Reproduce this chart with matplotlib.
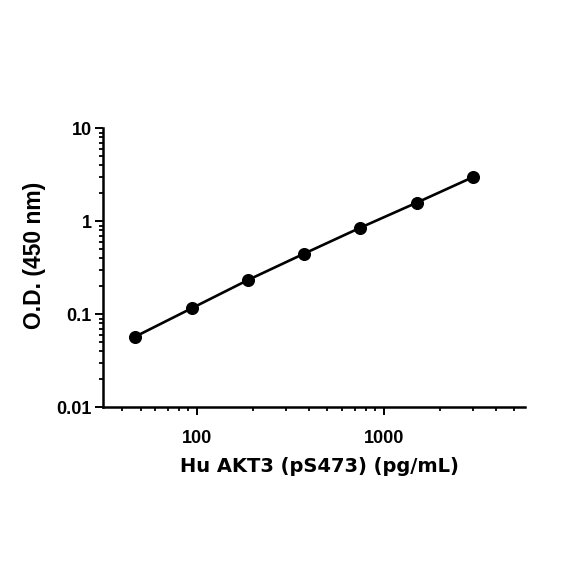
import matplotlib
matplotlib.use("Agg")
import matplotlib.pyplot as plt
from matplotlib.ticker import LogLocator, NullFormatter, FixedLocator, FixedFormatter

# Data
conc = [46.875, 93.75, 187.5, 375, 750, 1500, 3000]
od = [0.0576, 0.116, 0.2335, 0.449, 0.854, 1.585, 2.985]
x_ticks = [100, 1000]
x_ticklabels = ["100", "1000"]
y_ticks = [0.01, 0.1, 1, 10]
y_ticklabels = ["0.01", "0.1", "1", "10"]
x_label = "Hu AKT3 (pS473) (pg/mL)"
y_label = "O.D. (450 nm)"

plt.rcParams["font.family"] = ["Liberation Sans", "DejaVu Sans"]
plt.rcParams["font.weight"] = "bold"

fig = plt.figure(figsize=(5.84, 5.84), dpi=100)
ax = fig.add_axes([0.177, 0.3026, 0.722, 0.4777])

ax.plot(conc, od, color="black", lw=1.9, marker="o", markersize=8.4,
        markerfacecolor="black", markeredgecolor="black", zorder=3)

ax.set_xscale("log")
ax.set_yscale("log")
ax.set_xlim(31.6, 5700)
ax.set_ylim(0.01, 10)

ax.xaxis.set_major_locator(FixedLocator(x_ticks))
ax.xaxis.set_major_formatter(FixedFormatter(x_ticklabels))
ax.xaxis.set_minor_locator(LogLocator(base=10, subs=range(2, 10), numticks=20))
ax.xaxis.set_minor_formatter(NullFormatter())
ax.yaxis.set_major_locator(FixedLocator(y_ticks))
ax.yaxis.set_major_formatter(FixedFormatter(y_ticklabels))
ax.yaxis.set_minor_locator(LogLocator(base=10, subs=range(2, 10), numticks=20))
ax.yaxis.set_minor_formatter(NullFormatter())

for s in ["top", "right"]:
    ax.spines[s].set_visible(False)
for s in ["left", "bottom"]:
    ax.spines[s].set_linewidth(1.8)

ax.tick_params(which="major", direction="out", length=5.5, width=1.4, labelsize=13)
ax.tick_params(which="minor", direction="out", length=3, width=1.3)
ax.tick_params(axis="x", which="major", pad=11)
ax.tick_params(axis="y", which="major", pad=3)

ax.set_xlabel(x_label, fontfamily="DejaVu Sans", fontweight="bold", fontsize=14)
ax.set_ylabel(y_label, fontfamily="Liberation Sans", fontweight="bold", fontsize=16.5)
ax.xaxis.set_label_coords(0.513, -0.18)
ax.yaxis.set_label_coords(-0.135, 0.543)

fig.savefig("out.png", dpi=100)
